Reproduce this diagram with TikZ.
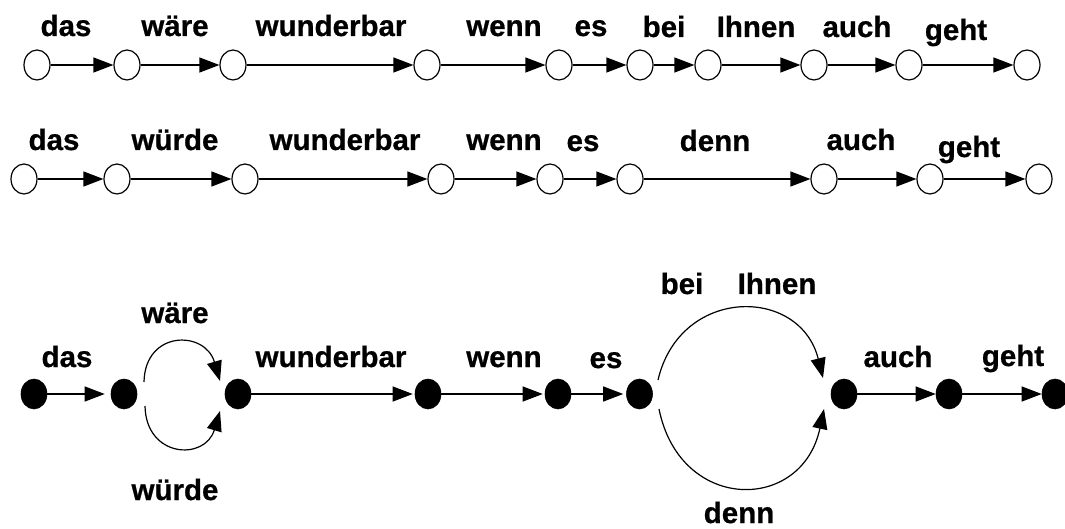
\documentclass[tikz,border=0pt]{standalone}
\usepackage{fontspec}
\setmainfont{Liberation Sans}[BoldFeatures={FakeBold=0.7}]
\usetikzlibrary{arrows.meta,shapes.geometric}
\begin{document}
\begin{tikzpicture}[x=1pt,y=1pt,
  st/.style={ellipse, draw, line width=1.2pt, minimum width=26pt, minimum height=30pt, inner sep=0pt},
  fs/.style={ellipse, fill=black, draw=black, line width=0.6pt, minimum width=26pt, minimum height=30pt, inner sep=0pt},
  lbl/.style={anchor=base, inner sep=0pt, font=\bfseries\fontsize{29.5}{32}\selectfont},
  arr/.style={line width=1.2pt, -{Triangle[length=20pt,width=15pt]}},
]
\useasboundingbox (0,0) rectangle (1065,-529);
% ---------- row 1 ----------
\foreach \n/\x in {1/37,2/127,3/233,4/427,5/559,6/640,7/708,8/814,9/909,10/1027}
  \node[st] (a\n) at (\x,-65) {};
\foreach \i/\j in {1/2,2/3,3/4,4/5,5/6,6/7,7/8,8/9,9/10}
  \draw[arr] (a\i) -- (a\j);
\node[lbl] (ta1) at (66,-36) {das};
\node[lbl] (ta2) at (175,-36) {wäre};
\node[lbl] (ta3) at (331,-36) {wunderbar};
\node[lbl] (ta4) at (504,-36) {wenn};
\node[lbl] (ta5) at (591,-36) {es};
\node[lbl] (ta6) at (664,-37) {bei};
\node[lbl] (ta7) at (756,-37) {Ihnen};
\node[lbl] (ta8) at (857,-37) {auch};
\node[lbl] (ta9) at (956,-40) {geht};
% ---------- row 2 ----------
\foreach \n/\x in {1/24,2/117,3/245,4/441,5/550,6/630,7/824,8/930,9/1039}
  \node[st] (s\n) at (\x,-179) {};
\foreach \i/\j in {1/2,2/3,3/4,4/5,5/6,6/7,7/8,8/9}
  \draw[arr] (s\i) -- (s\j);
\node[lbl] (tb1) at (54,-150) {das};
\node[lbl] (tb2) at (175,-150) {würde};
\node[lbl] (tb3) at (345,-150) {wunderbar};
\node[lbl] (tb4) at (504,-150) {wenn};
\node[lbl] (tb5) at (583,-151) {es};
\node[lbl] (tb6) at (715,-151) {denn};
\node[lbl] (tb7) at (861,-150) {auch};
\node[lbl] (tb8) at (969,-157) {geht};
% ---------- row 3 ----------
\foreach \n/\x in {1/34,2/124,3/238,4/428,5/558,6/639.5,7/844,8/949,9/1055}
  \node[fs] (b\n) at (\x,-394) {};
\draw[arr, shorten >=6pt] (b1) -- (b2);
\draw[arr, shorten >=2pt] (b3) -- (b4);
\draw[arr, shorten >=2pt] (b4) -- (b5);
\draw[arr, shorten >=3pt] (b5) -- (b6);
\draw[arr] (b7) -- (b8);
\draw[arr] (b8) -- (b9);
% small loop
\draw[arr] ([xshift=20pt,yshift=12pt]b2.center) .. controls (145,-330) and (205,-330) .. ([xshift=-18pt,yshift=13pt]b3.center);
\draw[arr] ([xshift=21pt,yshift=-12pt]b2.center) .. controls (146,-458) and (205,-461) .. ([xshift=-18pt,yshift=-17pt]b3.center);
% big loop
\draw[arr] ([xshift=18.5pt,yshift=14pt]b6.center) .. controls (680,-286) and (800,-286) .. ([xshift=-21pt,yshift=16pt]b7.center);
\draw[arr] ([xshift=19.5pt,yshift=-15pt]b6.center) .. controls (680,-513) and (802,-513) .. ([xshift=-20pt,yshift=-15pt]b7.center);
\node[lbl] (tc1) at (67,-367) {das};
\node[lbl] (tc2) at (175,-323) {wäre};
\node[lbl] (tc3) at (175,-500) {würde};
\node[lbl] (tc4) at (331,-367) {wunderbar};
\node[lbl] (tc5) at (504,-367) {wenn};
\node[lbl] (tc6) at (606,-368) {es};
\node[lbl] (tc7) at (682,-294) {bei};
\node[lbl] (tc8) at (777,-294) {Ihnen};
\node[lbl] (tc9) at (898,-367) {auch};
\node[lbl] (tc10) at (1013,-366) {geht};
\node[lbl] (tc11) at (739,-523) {denn};
\end{tikzpicture}
\end{document}
